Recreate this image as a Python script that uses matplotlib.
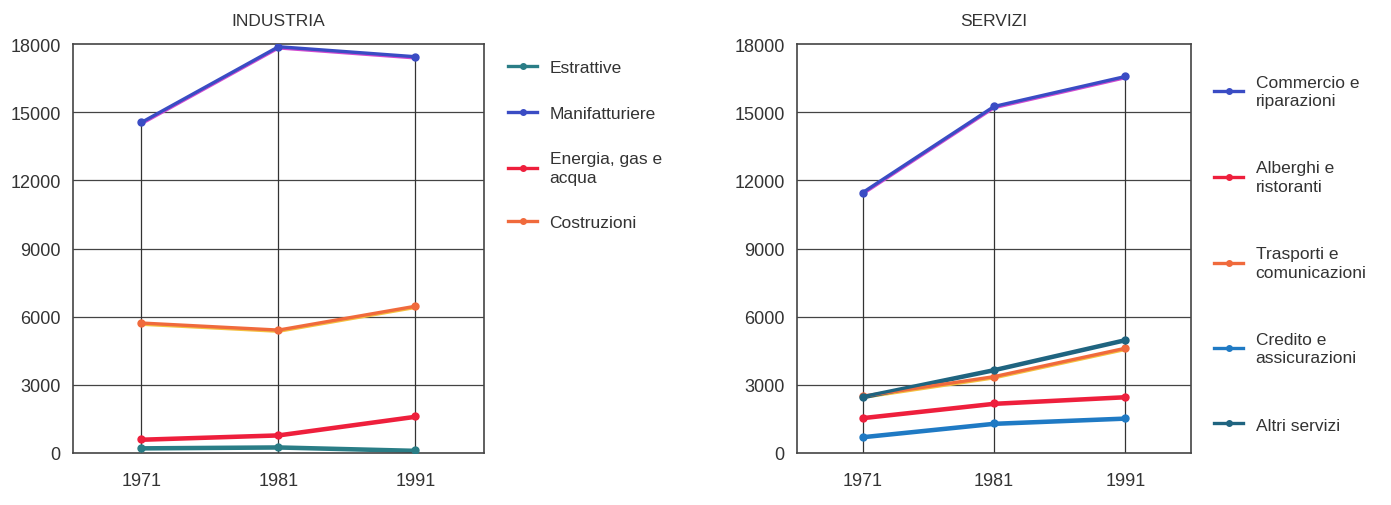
import matplotlib.pyplot as plt
from matplotlib import transforms
import numpy as np

plt.rcParams['font.family'] = ['Liberation Sans', 'DejaVu Sans']

years = [1971, 1981, 1991]

# Industria (migliaia di addetti)
ind_labels = ["Estrattive", "Manifatturiere", "Energia, gas e\nacqua", "Costruzioni"]
estrattive = [230, 270, 120]
manifatturiere = [14550, 17880, 17440]
energia = [610, 800, 1620]
costruzioni = [5720, 5410, 6460]
ind_colors = ["#2a7d86", "#3a4cc4", "#ee1f3c", "#f06a3c"]
ind_under = ["#2a7d86", "#d04ad0", "#ee1f3c", "#f4c040"]

# Servizi
srv_labels = ["Commercio e\nriparazioni", "Alberghi e\nristoranti", "Trasporti e\ncomunicazioni",
              "Credito e\nassicurazioni", "Altri servizi"]
commercio = [11460, 15250, 16570]
alberghi = [1560, 2190, 2480]
trasporti = [2500, 3360, 4610]
credito = [720, 1310, 1540]
altri = [2480, 3670, 4990]
srv_colors = ["#3a4cc4", "#ee1f3c", "#f06a3c", "#1f7ac4", "#1f6480"]
srv_under = ["#d04ad0", "#ee1f3c", "#f4c040", "#1f7ac4", "#1f6480"]

yticks = [0, 3000, 6000, 9000, 12000, 15000, 18000]
TICK_FS = 13
LEG_FS = 12.5

fig = plt.figure(figsize=(13.91, 5.06), dpi=100)
ax1 = fig.add_axes([73 / 1391, 52 / 506, 411 / 1391, 409 / 506])
ax2 = fig.add_axes([797 / 1391, 52 / 506, 394 / 1391, 409 / 506])


def draw_panel(ax, title, series, labels, colors, under, leg_y, spacing):
    ax.set_xlim(1966, 1996)
    ax.set_ylim(0, 18000)
    ax.set_yticks(yticks)
    ax.set_xticks(years)
    ax.tick_params(length=0, labelsize=TICK_FS, colors="#333333")
    ax.tick_params(axis="x", pad=14)
    ax.tick_params(axis="y", pad=9)
    for s in ax.spines.values():
        s.set_color("#444444")
        s.set_linewidth(1.2)
    for t in yticks[1:-1]:
        ax.axhline(t, color="#444444", lw=0.9, zorder=1)
    # drop lines from the highest series down to zero
    tops = np.max(np.array(series), axis=0)
    ax.vlines(years, 0, tops, color="#333333", lw=0.9, zorder=1)
    shift = transforms.offset_copy(ax.transData, fig=fig, x=0, y=-1.2, units="dots")
    handles = []
    for vals, c, u, lab in zip(series, colors, under, labels):
        ax.plot(years, vals, color=u, lw=2.4, transform=shift, zorder=2)
        h, = ax.plot(years, vals, color=c, lw=2.4, marker="o", ms=5, label=lab, zorder=3)
        handles.append(h)
    ax.set_title(title, fontsize=LEG_FS, color="#333333", pad=14)
    leg = ax.legend(handles=handles, loc="upper left", bbox_to_anchor=(1.058, leg_y),
                    frameon=False, fontsize=LEG_FS, labelcolor="#333333", borderpad=0,
                    borderaxespad=0, handlelength=1.7, handletextpad=0.7,
                    labelspacing=spacing, markerscale=0.8)
    for txt in leg.get_texts():
        txt.set_linespacing(1.3)


draw_panel(ax1, "INDUSTRIA", [estrattive, manifatturiere, energia, costruzioni],
           ind_labels, ind_colors, ind_under, 0.961, 1.75)
draw_panel(ax2, "SERVIZI", [commercio, alberghi, trasporti, credito, altri],
           srv_labels, srv_colors, srv_under, 0.925, 3.0)

fig.savefig("out.png", dpi=100)
